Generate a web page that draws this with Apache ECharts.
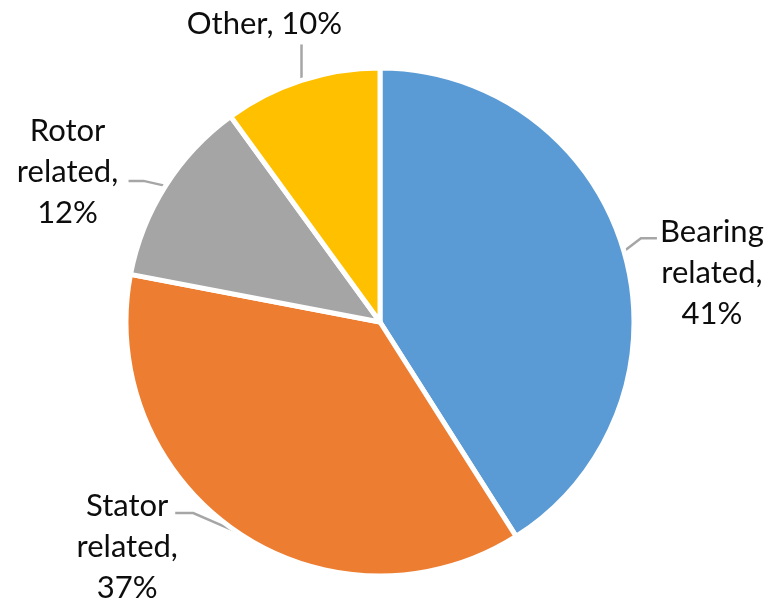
<!DOCTYPE html>
<html>
<head>
<meta charset="utf-8">
<script src="https://cdn.jsdelivr.net/npm/echarts@6/dist/echarts.min.js"></script>
<style>html,body{margin:0;padding:0;background:#fff}#c{width:773px;height:603px}</style>
</head>
<body>
<div id="c"></div>
<script>
const categories = ['Bearing related', 'Stator related', 'Rotor related', 'Other'];
const values = [41, 37, 12, 10];
const colors = ['#5B9BD5', '#ED7D31', '#A5A5A5', '#FFC000'];

// label placement offsets (relative to the slice edge point the library computes)
const labelOffsets = [
  {elbow: [17, -13], end: [33, -13], center: [88, 22]},
  {elbow: [-44, -19], end: [-62, -19], center: [-110, 15]},
  {elbow: [-22, -5], end: [-37, -5], center: [-98, -14]},
  {elbow: [0, -36], end: [0, -36], center: [-37, -56]}
];

function fmt(p) {
  if (p.name === 'Other') return p.name + ', ' + p.value + '%';
  const parts = p.name.split(' ');
  return parts[0] + '\n' + parts[1] + ',\n' + p.value + '%';
}

const chart = echarts.init(document.getElementById('c'), null, {renderer: 'canvas'});
chart.setOption({
  backgroundColor: '#fff',
  animation: false,
  series: [{
    type: 'pie',
    center: [380, 322],
    radius: 254,
    startAngle: 90,
    clockwise: true,
    avoidLabelOverlap: false,
    data: categories.map((c, i) => ({name: c, value: values[i], itemStyle: {color: colors[i]}})),
    itemStyle: {borderColor: '#fff', borderWidth: 5},
    label: {
      show: true,
      position: 'outside',
      formatter: fmt,
      color: '#0d0d0d',
      fontFamily: 'Lato',
      fontSize: 31,
      lineHeight: 41,
      width: 200,
      overflow: 'none'
    },
    labelLine: {
      show: true,
      length: 20,
      length2: 16,
      lineStyle: {color: '#A6A6A6', width: 2.5}
    },
    labelLayout: function (params) {
      const o = labelOffsets[params.dataIndex];
      const p0 = params.labelLinePoints[0];
      return {
        x: p0[0] + o.center[0],
        y: p0[1] + o.center[1],
        align: 'center',
        verticalAlign: 'middle',
        labelLinePoints: [
          [p0[0], p0[1]],
          [p0[0] + o.elbow[0], p0[1] + o.elbow[1]],
          [p0[0] + o.end[0], p0[1] + o.end[1]]
        ]
      };
    }
  }]
});
</script>
</body>
</html>
